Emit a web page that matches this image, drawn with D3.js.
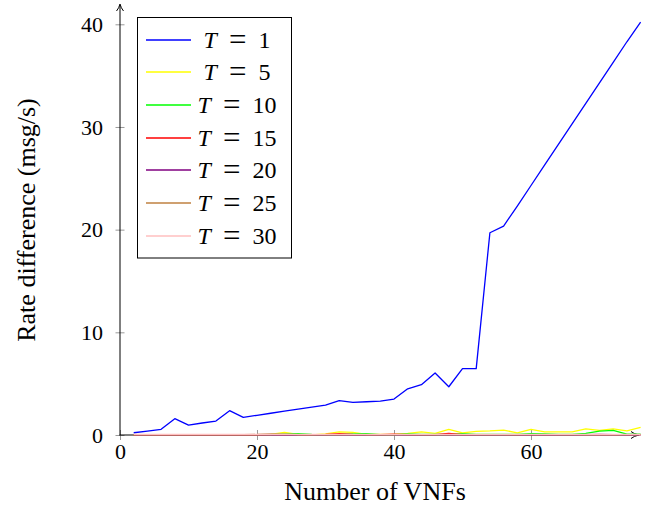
<!DOCTYPE html>
<html><head><meta charset="utf-8">
<script src="https://cdn.jsdelivr.net/npm/d3@7"></script>
<style>body{margin:0;background:#fff}svg{display:block}</style>
</head><body>
<svg id="c" width="659" height="506"></svg>
<script>
const xValues = [2,4,6,8,10,12,14,16,18,20,22,24,26,28,30,32,34,36,38,40,42,44,46,48,50,52,54,56,58,60,62,64,66,68,70,72,74,76];
const t1  = [0.22,0.38,0.55,1.59,0.97,1.17,1.36,2.37,1.72,1.92,2.12,2.32,2.52,2.72,2.92,3.34,3.18,3.24,3.3,3.5,4.5,4.9,6.04,4.7,6.46,6.46,19.7,20.35,22.3,24.3,26.3,28.3,30.3,32.3,34.3,36.3,38.3,40.2];
const t5  = [0.02,0.02,0.02,0.02,0.02,0.02,0.02,0.02,0.02,0.02,0.05,0.25,0.05,0.02,0.1,0.3,0.25,0.05,0.05,0.05,0.15,0.3,0.15,0.55,0.2,0.35,0.4,0.48,0.2,0.55,0.3,0.3,0.3,0.6,0.45,0.6,0.4,0.75];
const t10 = [0.02,0.02,0.02,0.02,0.02,0.02,0.02,0.02,0.02,0.02,0.03,0.08,0.12,0.05,0.03,0.05,0.1,0.12,0.03,0.03,0.1,0.05,0.05,0.05,0.12,0.05,0.05,0.05,0.05,0.12,0.1,0.05,0.05,0.15,0.38,0.45,0.08,0.08];
const t15 = [0.02,0.02,0.02,0.02,0.02,0.02,0.02,0.02,0.02,0.02,0.03,0.03,0.03,0.03,0.05,0.12,0.05,0.03,0.03,0.08,0.03,0.03,0.03,0.15,0.03,0.03,0.03,0.03,0.03,0.03,0.03,0.03,0.03,0.03,0.03,0.03,0.03,0.03];
const t20 = [0.02,0.02,0.02,0.02,0.02,0.02,0.02,0.02,0.02,0.02,0.02,0.02,0.02,0.02,0.02,0.02,0.02,0.02,0.02,0.02,0.02,0.02,0.02,0.02,0.02,0.02,0.02,0.02,0.02,0.02,0.02,0.02,0.02,0.03,0.05,0.04,0.02,0.02];
const t25 = [0.03,0.03,0.03,0.03,0.03,0.03,0.03,0.03,0.03,0.05,0.1,0.08,0.04,0.03,0.03,0.03,0.03,0.03,0.03,0.03,0.03,0.03,0.03,0.03,0.03,0.03,0.03,0.03,0.03,0.03,0.03,0.03,0.03,0.03,0.03,0.03,0.03,0.03];
const t30 = [0.05,0.05,0.05,0.05,0.05,0.05,0.05,0.05,0.05,0.05,0.05,0.05,0.05,0.05,0.05,0.05,0.05,0.05,0.05,0.05,0.05,0.05,0.05,0.05,0.05,0.05,0.05,0.05,0.05,0.05,0.05,0.05,0.05,0.05,0.05,0.05,0.05,0.05];
const seriesNames = ["1","5","10","15","20","25","30"];
const seriesColors = ["#0000ff","#ffff00","#00ff00","#ff0000","#800080","#bf8040","#ffbfbf"];
const seriesValues = [t1,t5,t10,t15,t20,t25,t30];
const xTicks = [0,20,40,60];
const yTicks = [0,10,20,30,40];

const svg = d3.select("#c");
const font = "'Liberation Serif','Times New Roman',serif";
const x = d3.scaleLinear().domain([0,76]).range([120,640.6]);
const y = d3.scaleLinear().domain([0,40]).range([435,24.3]);

// axes
const gy = svg.append("g").attr("transform","translate(120,0)")
  .call(d3.axisLeft(y).tickValues(yTicks).tickSize(0).tickPadding(17).tickFormat(d3.format("d")));
gy.select(".domain").remove();
gy.selectAll("text").attr("font-family",font).attr("font-size",22).attr("fill","#000");
gy.selectAll(".tick").append("line").attr("x1",-4.5).attr("x2",4.5).attr("stroke","#999").attr("stroke-width",1);

const gx = svg.append("g").attr("transform","translate(0,435)")
  .call(d3.axisBottom(x).tickValues(xTicks).tickSize(0).tickPadding(8).tickFormat(d3.format("d")));
gx.select(".domain").remove();
gx.selectAll("text").attr("font-family",font).attr("font-size",22).attr("fill","#000");
gx.selectAll(".tick").append("line").attr("y1",-5).attr("y2",5).attr("stroke","#999").attr("stroke-width",1);

svg.append("line").attr("x1",120).attr("x2",120).attr("y1",435.5).attr("y2",6).attr("stroke","#000").attr("stroke-width",1);
svg.append("line").attr("x1",119.5).attr("x2",638).attr("y1",435).attr("y2",435).attr("stroke","#000").attr("stroke-width",1);
svg.append("path").attr("d","M116.5,11 Q119,8 120,4 Q121,8 123.5,11").attr("fill","none").attr("stroke","#000").attr("stroke-width",1);
svg.append("path").attr("d","M631,431.5 Q634,434 639,435 Q634,436 631,438.5").attr("fill","none").attr("stroke","#000").attr("stroke-width",1);

// lines
const line = d3.line().x((d,i)=>x(xValues[i])).y(d=>y(d));
seriesValues.forEach((vals,k)=>{
  svg.append("path").datum(vals).attr("d",line).attr("fill","none")
    .attr("stroke",seriesColors[k]).attr("stroke-width",1.3).attr("stroke-linejoin","round");
});

// labels
svg.append("text").attr("x",375).attr("y",500).attr("text-anchor","middle")
  .attr("font-family",font).attr("font-size",26).text("Number of VNFs");
svg.append("text").attr("transform","translate(35,220) rotate(-90)").attr("text-anchor","middle")
  .attr("font-family",font).attr("font-size",26).text("Rate difference (msg/s)");

// legend
const lg = svg.append("g");
lg.append("rect").attr("x",137.5).attr("y",17.5).attr("width",154).attr("height",240.5)
  .attr("fill","#fff").attr("stroke","#000").attr("stroke-width",1);
seriesNames.forEach((n,i)=>{
  const cy = Math.round(39.7 + i*32.67);
  lg.append("line").attr("x1",146).attr("x2",191).attr("y1",cy).attr("y2",cy)
    .attr("stroke",seriesColors[i]).attr("stroke-width",1.6);
  const t = lg.append("text").attr("x",237).attr("y",cy+8).attr("text-anchor","middle")
    .attr("font-family",font).attr("font-size",24).attr("xml:space","preserve");
  t.append("tspan").attr("font-style","italic").text("T");
  t.append("tspan").text("\u2002");
  t.append("tspan").attr("font-size",31).attr("dy",2).text("=");
  t.append("tspan").attr("dy",-2).text("\u2002" + n);
});
</script>
</body></html>
